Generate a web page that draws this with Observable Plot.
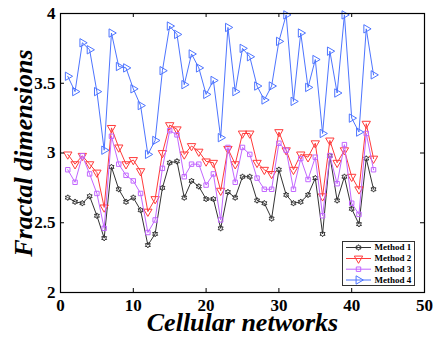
<!DOCTYPE html>
<html><head><meta charset="utf-8">
<script src="https://cdn.jsdelivr.net/npm/d3@7"></script>
<script src="https://cdn.jsdelivr.net/npm/@observablehq/plot@0.6"></script>
<style>
body{margin:0;background:#fff}
#wrap{position:relative;width:436px;height:341px}
#wrap svg text{font-weight:bold}
#legend{position:absolute;left:342px;top:241px}
</style>
</head><body><div id="wrap"></div>
<script>
const networks = [1,2,3,4,5,6,7,8,9,10,11,12,13,14,15,16,17,18,19,20,21,22,23,24,25,26,27,28,29,30,31,32,33,34,35,36,37,38,39,40,41,42,43];
const method1 = [2.68,2.65,2.64,2.69,2.55,2.39,2.90,2.74,2.65,2.68,2.59,2.34,2.42,2.75,2.93,2.94,2.68,2.80,2.76,2.67,2.67,2.46,2.72,2.68,2.83,2.83,2.66,2.64,2.53,2.88,2.70,2.64,2.65,2.70,2.82,2.42,2.98,2.66,2.83,2.60,2.49,2.96,2.74];
const method2 = [2.99,2.92,2.98,2.92,2.86,2.61,3.18,3.04,2.92,2.95,2.87,2.58,2.67,3.00,3.20,3.17,2.99,3.05,3.01,2.94,2.93,2.73,3.03,2.92,3.14,3.14,2.93,2.88,2.85,3.15,3.02,2.88,2.99,2.97,3.07,2.69,3.09,2.93,3.02,2.83,2.74,3.21,2.96];
const method3 = [2.88,2.79,2.98,2.85,2.71,2.46,3.12,2.92,2.84,2.80,2.71,2.43,2.52,2.89,3.16,3.13,2.83,2.92,2.92,2.77,2.85,2.52,3.04,2.79,3.04,2.99,2.82,2.74,2.74,3.07,3.02,2.74,2.96,2.81,2.97,2.55,2.98,2.78,3.06,2.64,2.56,3.14,2.88];
const method4 = [3.55,3.44,3.79,3.74,3.44,3.02,3.86,3.62,3.61,3.46,3.34,2.99,3.09,3.59,3.91,3.85,3.49,3.71,3.61,3.42,3.52,3.11,3.90,3.44,3.75,3.69,3.48,3.38,3.48,3.80,3.99,3.37,3.86,3.47,3.67,3.14,3.73,3.43,3.99,3.25,3.15,3.89,3.56];
const seriesNames = ["Method 1","Method 2","Method 3","Method 4"];
const xTicks = [0,10,20,30,40,50];
const yTicks = [2,2.5,3,3.5,4];
const xLabel = "Cellular networks";
const yLabel = "Fractal dimensions";

const sqrt3 = Math.sqrt(3);
const hexagram = {draw(c, s){
  const R = Math.sqrt(s) * 0.62, r = R / sqrt3;
  for (let i = 0; i < 12; i++) {
    const a = Math.PI / 6 * i - Math.PI / 2, rr = i % 2 ? r : R;
    const px = rr * Math.cos(a), py = rr * Math.sin(a);
    i ? c.lineTo(px, py) : c.moveTo(px, py);
  }
  c.closePath();
}};
const triDown = {draw(c, s){ const y = -Math.sqrt(s/(sqrt3*3)); c.moveTo(0,-y*2); c.lineTo(-sqrt3*y, y); c.lineTo(sqrt3*y, y); c.closePath(); }};
const triRight = {draw(c, s){ const y = -Math.sqrt(s/(sqrt3*3)); c.moveTo(-y*2,0); c.lineTo(y, -sqrt3*y); c.lineTo(y, sqrt3*y); c.closePath(); }};
const squareSym = {draw(c, s){ const h = Math.sqrt(s)/2; c.rect(-h,-h,2*h,2*h); }};

const colors = ["#333333","#ff3b3b","#c266ff","#4d74ff"];
const symbols = [hexagram, triDown, squareSym, triRight];
const radii = [2.6, 3.1, 2.5, 3.1];
const allSeries = [method1, method2, method3, method4];

const W = 436, H = 341, mL = 60, mR = 12, mT = 13, mB = 49;
const fw = W - mL - mR, fh = H - mT - mB;
const font = "'Liberation Serif','Times New Roman',Times,serif";

const seriesMarks = allSeries.flatMap((vals, k) => {
  const data = networks.map((n, i) => ({x: n, y: vals[i]}));
  return [
    Plot.line(data, {x: "x", y: "y", stroke: colors[k], strokeWidth: 1}),
    Plot.dot(data, {x: "x", y: "y", stroke: colors[k], fill: "none", symbol: symbols[k], r: radii[k], strokeWidth: 1})
  ];
});

const chart = Plot.plot({
  width: W, height: H,
  marginLeft: mL, marginRight: mR, marginTop: mT, marginBottom: mB,
  style: {fontFamily: font, background: "white", color: "black", overflow: "visible"},
  x: {domain: [0, 50]},
  y: {domain: [2, 4]},
  marks: [
    ...seriesMarks,
    Plot.frame({stroke: "black", strokeWidth: 1.2}),
    Plot.ruleX(xTicks, {x: d => d, insetTop: fh - 4, stroke: "black"}),
    Plot.ruleX(xTicks, {x: d => d, insetBottom: fh - 4, stroke: "black"}),
    Plot.ruleY(yTicks, {y: d => d, insetRight: fw - 4, stroke: "black"}),
    Plot.ruleY(yTicks, {y: d => d, insetLeft: fw - 4, stroke: "black"}),
    Plot.axisX(xTicks, {tickSize: 0, tickPadding: 6, fontSize: 17, label: null, tickFormat: d => String(d)}),
    Plot.axisY(yTicks, {tickSize: 0, tickPadding: 5, fontSize: 17, label: null, tickFormat: d => String(d)}),
    Plot.text([xLabel], {frameAnchor: "bottom", lineAnchor: "middle", textAnchor: "middle", dy: 30, fontSize: 26, fontStyle: "italic", fontWeight: "bold", text: d => d}),
    Plot.text([yLabel], {frameAnchor: "left", lineAnchor: "middle", textAnchor: "middle", dx: -37, rotate: -90, fontSize: 26, fontStyle: "italic", fontWeight: "bold", text: d => d})
  ]
});
document.getElementById("wrap").appendChild(chart);

// legend
const lg = d3.select("#wrap").append("svg").attr("id", "legend")
  .attr("width", 74).attr("height", 46);
lg.append("rect").attr("x", 0.5).attr("y", 0.5).attr("width", 72).attr("height", 44)
  .attr("fill", "white").attr("stroke", "#333").attr("stroke-width", 1);
const ys = [6.5, 17.5, 28.2, 39];
seriesNames.forEach((name, k) => {
  const g = lg.append("g").attr("transform", `translate(0,${ys[k]})`);
  g.append("line").attr("x1", 4).attr("x2", 29).attr("stroke", colors[k]).attr("stroke-width", 1);
  g.append("path").attr("transform", "translate(16.5,0)")
    .attr("d", d3.symbol(symbols[k], Math.PI * radii[k] * radii[k])())
    .attr("fill", "none").attr("stroke", colors[k]);
  g.append("text").attr("x", 32.5).attr("dy", "0.32em").attr("font-size", 9)
    .attr("font-family", font).attr("font-weight", "bold").text(name);
});
</script>
</body></html>
